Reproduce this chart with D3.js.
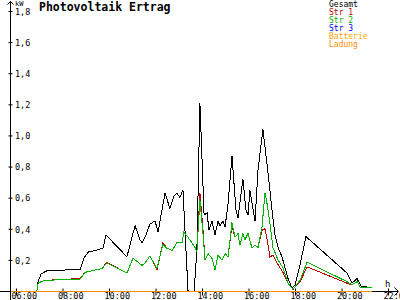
<!DOCTYPE html>
<html>
<head>
<meta charset="utf-8">
<script src="https://cdn.jsdelivr.net/npm/d3@7"></script>
<style>
  html, body { margin: 0; padding: 0; background: #fff; }
  svg { display: block; }
  text { font-family: "DejaVu Sans Mono", monospace; }
</style>
</head>
<body>
<div id="chart"></div>
<script>
// axis ticks
var hourTicks = [6, 8, 10, 12, 14, 16, 18, 20, 22];
var hourLabels = ["06:00", "08:00", "10:00", "12:00", "14:00", "16:00", "18:00", "20:00", "22:00"];
var kwTicks = [0.2, 0.4, 0.6, 0.8, 1.0, 1.2, 1.4, 1.6, 1.8];

var seriesNames = ["Gesamt", "Str 1", "Str 2", "Str 3", "Batterie", "Ladung"];
var seriesColors = ["#000000", "#c00000", "#00b400", "#0000ff", "#ffa500", "#ff8c00"];

// Gesamt (time in hours, value in kW)
var gesamtTime = [6.90, 6.95, 7.08, 7.33, 7.89, 8.32, 8.75, 8.92, 9.10, 9.40, 9.74, 9.87,
  10.77, 11.12, 11.33, 11.42, 11.59, 11.76, 11.98, 12.11, 12.41, 12.62, 12.80, 12.92,
  13.05, 13.18, 13.40, 13.66, 13.78, 13.91, 14.09, 14.22, 14.30, 14.43, 14.56, 14.69,
  14.77, 14.90, 14.99, 15.12, 15.29, 15.46, 15.55, 15.76, 15.89, 15.98, 16.06, 16.19,
  16.28, 16.41, 16.62, 16.80, 16.92, 17.01, 17.14, 17.27, 17.44, 17.57, 17.70, 17.87,
  18.00, 18.22, 18.47, 20.24, 20.45, 20.67, 20.84, 21.14, 21.31];
var gesamtKw = [0, 0.06, 0.11, 0.13, 0.13, 0.14, 0.135, 0.21, 0.25, 0.26, 0.275, 0.36,
  0.22, 0.42, 0.33, 0.31, 0.36, 0.43, 0.45, 0.38, 0.63, 0.53, 0.61, 0.63,
  0.60, 0.65, 0, 0, 0.26, 1.21, 0.49, 0.50, 0.39, 0.45, 0.36, 0.45,
  0.42, 0.45, 0.41, 0.56, 0.87, 0.52, 0.47, 0.72, 0.52, 0.49, 0.65, 0.53,
  0.45, 0.78, 1.04, 0.81, 0.65, 0.52, 0.36, 0.28, 0.22, 0.15, 0.08, 0.02,
  0.04, 0.17, 0.35, 0.115, 0.05, 0.08, 0.03, 0.025, 0.02];

// Str 1 / Str 2 / Str 3 share one time base
var strTime = [6.90, 6.95, 7.16, 7.46, 8.75, 8.97, 9.70, 9.91, 10.77, 11.03, 11.42, 11.55,
  11.76, 12.06, 12.32, 12.49, 12.71, 12.92, 13.14, 13.22, 13.40, 13.70, 13.78, 13.91,
  14.03, 14.13, 14.26, 14.43, 14.56, 14.69, 14.86, 14.99, 15.12, 15.29, 15.42, 15.55,
  15.63, 15.76, 15.85, 15.98, 16.15, 16.28, 16.41, 16.58, 16.71, 16.80, 16.92, 17.05,
  17.27, 17.48, 17.70, 17.91, 18.22, 18.52, 20.24, 20.45, 20.67, 20.80, 21.10, 21.31];
var str1Kw = [0, 0.05, 0.065, 0.07, 0.08, 0.12, 0.145, 0.185, 0.115, 0.21, 0.165, 0.18,
  0.225, 0.135, 0.31, 0.275, 0.26, 0.31, 0.31, 0.38, 0.345, 0.28, 0.25, 0.63,
  0.42, 0.20, 0.24, 0.21, 0.135, 0.23, 0.20, 0.24, 0.22, 0.42, 0.345, 0.37,
  0.295, 0.37, 0.33, 0.37, 0.275, 0.295, 0.28, 0.39, 0.40, 0.33, 0.22, 0.23,
  0.17, 0.12, 0.05, 0.01, 0.06, 0.155, 0.05, 0.04, 0.06, 0.025, 0.02, 0.02];
var str2Kw = [0, 0.05, 0.065, 0.07, 0.075, 0.12, 0.145, 0.18, 0.115, 0.21, 0.165, 0.18,
  0.225, 0.145, 0.30, 0.275, 0.26, 0.31, 0.31, 0.38, 0.345, 0.28, 0.25, 0.59,
  0.39, 0.20, 0.24, 0.21, 0.135, 0.23, 0.20, 0.24, 0.22, 0.44, 0.345, 0.37,
  0.295, 0.37, 0.33, 0.37, 0.275, 0.295, 0.28, 0.41, 0.63, 0.56, 0.435, 0.28,
  0.20, 0.15, 0.05, 0.01, 0.07, 0.185, 0.06, 0.04, 0.06, 0.025, 0.02, 0.02];
var str3Kw = strTime.map(function () { return 0; });

// Batterie / Ladung stay at zero
var akkuTime = [5.8, 21.33];
var batterieKw = [0, 0];
var ladungKw = [0, 0];

var width = 400, height = 300;

var svg = d3.select('#chart').append('svg')
    .attr('width', width)
    .attr('height', height);

var x = d3.scaleLinear().domain([6, 22]).range([16, 388]);
var y = d3.scaleLinear().domain([0, 1.8]).range([291, 11]);

// x axis (line, arrow, ticks, labels)
svg.append('line')
    .attr('x1', 0).attr('x2', 398)
    .attr('y1', y(0) + 0.5).attr('y2', y(0) + 0.5)
    .attr('stroke', '#000');
svg.append('path')
    .attr('d', 'M394.5,287.5L398.5,291.5L394.5,295.5')
    .attr('fill', 'none').attr('stroke', '#000');

var xAxis = svg.append('g')
    .attr('transform', 'translate(0,' + (y(0) + 0.5) + ')')
    .call(d3.axisBottom(x)
        .tickValues(hourTicks)
        .tickFormat(function (d, i) { return hourLabels[i]; })
        .tickSize(4));
xAxis.select('.domain').remove();
xAxis.selectAll('.tick line').attr('y1', -3).attr('y2', 4);
xAxis.selectAll('.tick text')
    .attr('x', -5).attr('y', 7.5).attr('dy', 0)
    .style('text-anchor', 'start')
    .style('font-size', '8.5px')
    .style('font-family', '"DejaVu Sans Mono", monospace')
    .attr('fill', '#000');

svg.append('text')
    .attr('x', 385).attr('y', 287)
    .style('font-size', '9px')
    .text('h');

// y axis
svg.append('line')
    .attr('x1', 10.5).attr('x2', 10.5)
    .attr('y1', 1).attr('y2', 300)
    .attr('stroke', '#000');
svg.append('path')
    .attr('d', 'M7.5,4.5L10.5,1.5L13.5,4.5')
    .attr('fill', 'none').attr('stroke', '#000');

var yAxis = svg.append('g')
    .attr('transform', 'translate(10.5,0)')
    .call(d3.axisRight(y)
        .tickValues(kwTicks)
        .tickFormat(function (d) { return d.toFixed(1).replace('.', ','); })
        .tickSize(2));
yAxis.select('.domain').remove();
yAxis.selectAll('.tick line').attr('x1', -2).attr('x2', 2);
yAxis.selectAll('.tick text')
    .attr('x', 4.5).attr('dy', '0.38em')
    .style('text-anchor', 'start')
    .style('font-size', '8.5px')
    .style('font-family', '"DejaVu Sans Mono", monospace')
    .attr('fill', '#000');

svg.append('text')
    .attr('x', 15).attr('y', 6)
    .style('font-size', '7px')
    .text('kW');

// title
svg.append('text')
    .attr('x', 39).attr('y', 11)
    .style('font-size', '11.5px')
    .style('font-weight', 'bold')
    .text('Photovoltaik Ertrag');

// series
function toPoints(times, vals) {
  return times.map(function (t, i) { return [t, vals[i]]; });
}
var series = [
  toPoints(gesamtTime, gesamtKw),
  toPoints(strTime, str1Kw),
  toPoints(strTime, str2Kw),
  toPoints(strTime, str3Kw),
  toPoints(akkuTime, batterieKw),
  toPoints(akkuTime, ladungKw)
];

var line = d3.line()
    .x(function (d) { return x(d[0]); })
    .y(function (d) { return y(d[1]); });

svg.append('g').selectAll('path')
    .data(series)
    .enter()
    .append('path')
      .attr('d', line)
      .attr('fill', 'none')
      .attr('stroke', function (d, i) { return seriesColors[i]; })
      .attr('stroke-width', 1)
      .attr('shape-rendering', 'crispEdges');

// legend
svg.append('g').selectAll('text')
    .data(seriesNames)
    .enter()
    .append('text')
      .attr('x', 329)
      .attr('y', function (d, i) { return 7 + i * 8; })
      .style('font-size', '8px')
      .attr('fill', function (d, i) { return seriesColors[i]; })
      .text(function (d) { return d; });
</script>
</body>
</html>
